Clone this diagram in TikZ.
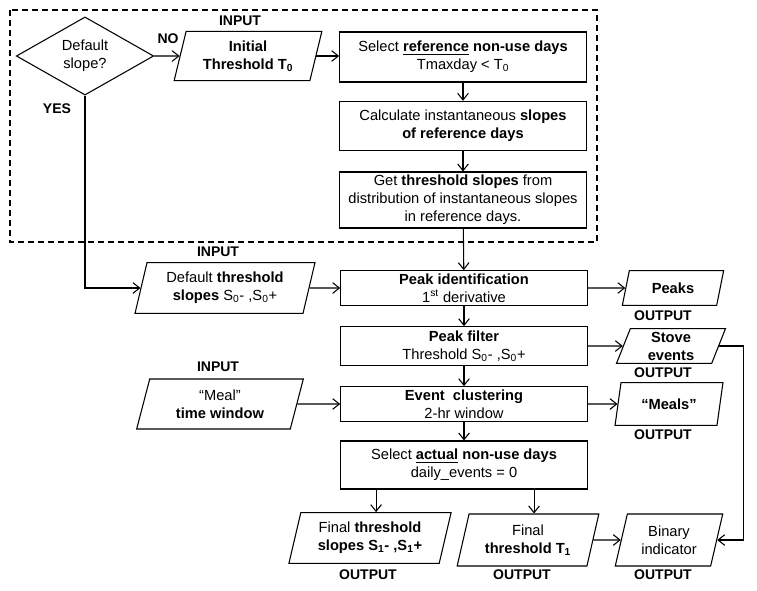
\documentclass[tikz,border=0pt]{standalone}
\usepackage{fontspec}
\setmainfont{Liberation Sans}
\usetikzlibrary{shapes.geometric,arrows.meta}
\tikzset{
    box/.style={draw, rectangle, minimum width=185pt, align=center, inner sep=1pt},
    io/.style={draw, trapezium, trapezium left angle=75, trapezium right angle=105,
        trapezium stretches=true, align=center, inner sep=1pt},
    decision/.style={draw, diamond, align=center, inner sep=0pt},
    tag/.style={font=\fontsize{10.5}{13}\selectfont\bfseries}
}
\begin{document}
\begin{tikzpicture}[x=0.75pt, y=-0.75pt, line width=0.8pt,
        >={Straight Barb[length=5pt,width=8pt]}, font=\fontsize{11}{13.5}\selectfont]
    \useasboundingbox (0,0) rectangle (757,590);
    % dashed frame round the first steps
    \draw
        [dash pattern=on 4.5pt off 3pt] (10,10) rectangle (597,242);
    \node[decision, minimum width=103pt, minimum height=52pt] (dflt) at (85,56) {Default\\slope?};
    \node[io, minimum width=111pt, minimum height=37pt] (init) at (248,56) {\textbf{Initial}\\\textbf{Threshold T\textsubscript{0}}};
    \node[box, minimum height=37.5pt] (selref) at (463,57) {Select \textbf{\underline{reference}} \textbf{non-use days}\\Tmaxday < T\textsubscript{0}};
    \node[box, minimum height=37pt] (calc) at (463,126) {Calculate instantaneous \textbf{slopes}\\\textbf{of reference days}};
    \node[box, minimum height=42pt] (getsl) at (463,200) {Get \textbf{threshold slopes} from\\distribution of instantaneous slopes\\in reference days.};
    \node[io, minimum width=135pt, minimum height=38pt] (defth) at (225,288) {Default \textbf{threshold}\\\textbf{slopes} S\textsubscript{0}- ,S\textsubscript{0}+};
    \node[box, minimum height=26pt] (peakid) at (464,288) {\textbf{Peak identification}\\1\textsuperscript{st} derivative};
    \node[io, minimum width=76pt, minimum height=26pt] (peaks) at (673,288) {\textbf{Peaks}};
    \node[box, minimum height=29pt] (pkfilt) at (464,346) {\textbf{Peak filter}\\Threshold S\textsubscript{0}- ,S\textsubscript{0}+};
    \node[io, minimum width=82pt, minimum height=26pt] (stove) at (671,346) {\textbf{Stove}\\\textbf{events}};
    \node[io, minimum width=126pt, minimum height=37.5pt] (meal) at (220,404) {“Meal”\\\textbf{time window}};
    \node[box, minimum height=26pt] (clust) at (464,404) {\textbf{Event\ \ clustering}\\2-hr window};
    \node[io, minimum width=81pt, minimum height=32pt] (meals) at (669,404) {\textbf{“Meals”}};
    \node[box, minimum height=36pt] (selact) at (464,465) {Select \textbf{\underline{actual}} \textbf{non-use days}\\daily\_events = 0};
    \node[io, minimum width=122pt, minimum height=38pt] (finsl) at (370,538) {Final \textbf{threshold}\\\textbf{slopes S\textsubscript{1}- ,S\textsubscript{1}+}};
    \node[io, minimum width=107pt, minimum height=39pt] (finth) at (528,540) {Final\\\textbf{threshold T\textsubscript{1}}};
    \node[io, minimum width=81pt, minimum height=39pt] (binary) at (669,540) {Binary\\indicator};
    % input and output tags
    \node[tag] (in1) at (240,21) {INPUT};
    \node[tag] (no) at (168,39) {NO};
    \node[tag] (yes) at (57,109) {YES};
    \node[tag] (in2) at (218,252) {INPUT};
    \node[tag] (in3) at (218,367) {INPUT};
    \node[tag] (out1) at (663,316) {OUTPUT};
    \node[tag] (out2) at (663,373) {OUTPUT};
    \node[tag] (out3) at (663,435) {OUTPUT};
    \node[tag] (out4) at (368,575) {OUTPUT};
    \node[tag] (out5) at (522,575) {OUTPUT};
    \node[tag] (out6) at (663,575) {OUTPUT};
    % connectors
    \draw
        [->] (dflt) -- (init);
    \draw
        [->] (init.east) -- (init.east -| selref.west);
    \draw
        [->] (selref) -- (calc);
    \draw
        [->] (calc) -- (getsl);
    \draw
        [->] (getsl) -- (peakid);
    \draw
        [->] (dflt.south) |- (defth);
    \draw
        [->] (defth) -- (peakid);
    \draw
        [->] (peakid) -- (peaks);
    \draw
        [->] (peakid) -- (pkfilt);
    \draw
        [->] (pkfilt) -- (stove);
    \draw
        [->] (pkfilt) -- (clust);
    \draw
        [->] (meal) -- (clust);
    \draw
        [->] (clust) -- (meals);
    \draw
        [->] (clust) -- (selact);
    \draw
        [->] (selact.south -| finsl.top side) -- (finsl.top side);
    \draw
        [->] (selact.south -| finth.top side) -- (finth.top side);
    \draw
        [->] (finth) -- (binary);
    \draw
        [->] (stove.east) -- ++(24,0) |- (binary.east);
\end{tikzpicture}
\end{document}
